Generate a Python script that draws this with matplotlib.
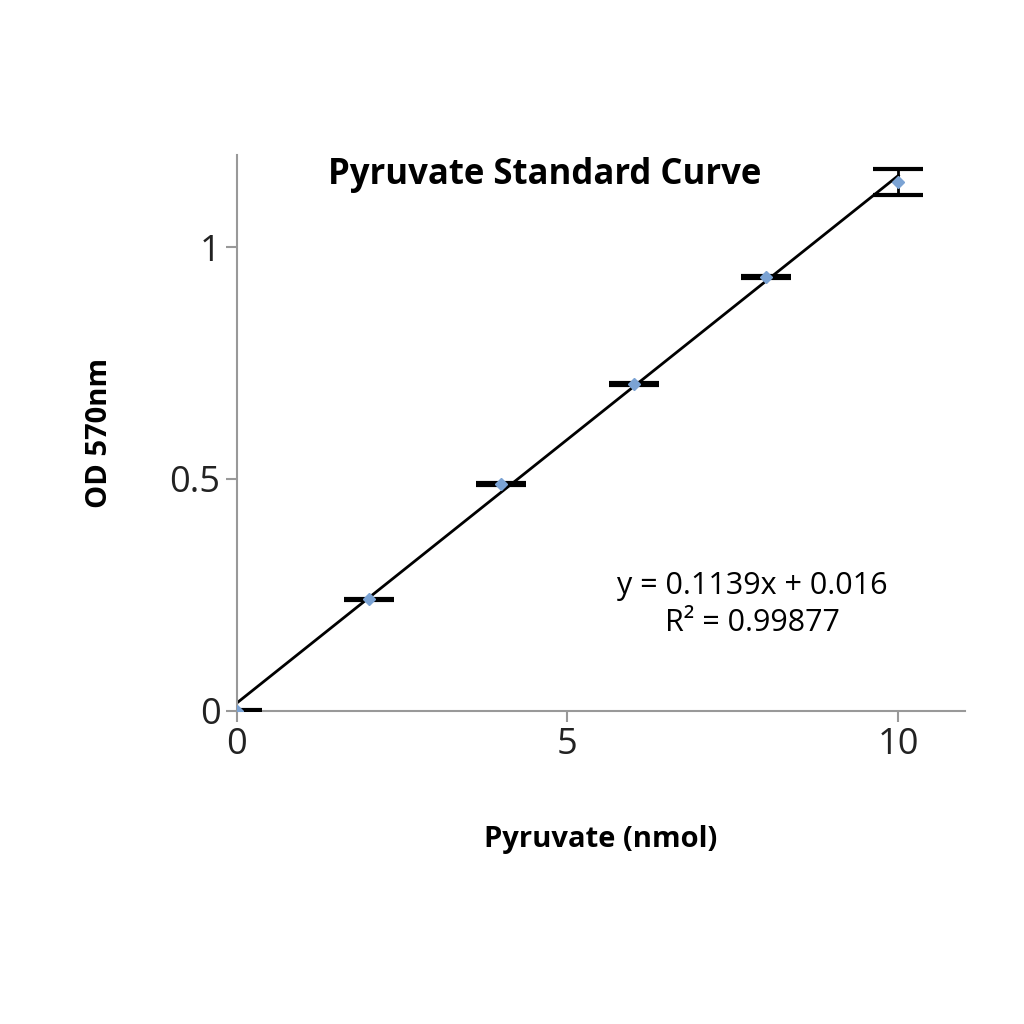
import matplotlib
matplotlib.use("Agg")
import matplotlib.pyplot as plt
import numpy as np

x = [0, 2, 4, 6, 8, 10]
y = [0.0, 0.24, 0.49, 0.705, 0.935, 1.14]
err = [0.001, 0.002, 0.002, 0.002, 0.002, 0.028]
slope, intercept = 0.1139, 0.016

plt.rcParams['font.family'] = ['Open Sans', 'DejaVu Sans']
fig = plt.figure(figsize=(10.24, 10.24), dpi=100)
ax = fig.add_axes([0.231, 0.306, 0.711, 0.543])
ax.errorbar(x, y, yerr=err, fmt='D', color='#7ba3d4', ms=6, ecolor='black',
            elinewidth=2, capsize=18, capthick=3, zorder=3)
xf = np.array([0, 10])
ax.plot(xf, slope * xf + intercept, color='black', lw=2, zorder=2)
ax.set_xlim(0, 11)
ax.set_ylim(0, 1.2)
ax.set_xticks([0, 5, 10])
ax.set_yticks([0, 0.5, 1])
ax.set_yticklabels(['0', '0.5', '1'])
for s in ['top', 'right']:
    ax.spines[s].set_visible(False)
for s in ['left', 'bottom']:
    ax.spines[s].set_color('#999999')
    ax.spines[s].set_linewidth(1.5)
ax.tick_params(colors='#999999', labelcolor='#222222', labelsize=26, length=8, width=1.5)
ax.set_xlabel('Pyruvate (nmol)', fontsize=21, fontweight='bold', labelpad=45)
ax.set_ylabel('OD 570nm', fontsize=21, fontweight='bold', labelpad=40)
ax.text(4.66, 1.155, 'Pyruvate Standard Curve', fontsize=25, fontweight='bold', ha='center', va='center')
ax.text(7.8, 0.23, 'y = 0.1139x + 0.016\nR² = 0.99877', fontsize=22, ha='center', va='center',
        linespacing=1.3)
fig.savefig('out.png', dpi=100)
